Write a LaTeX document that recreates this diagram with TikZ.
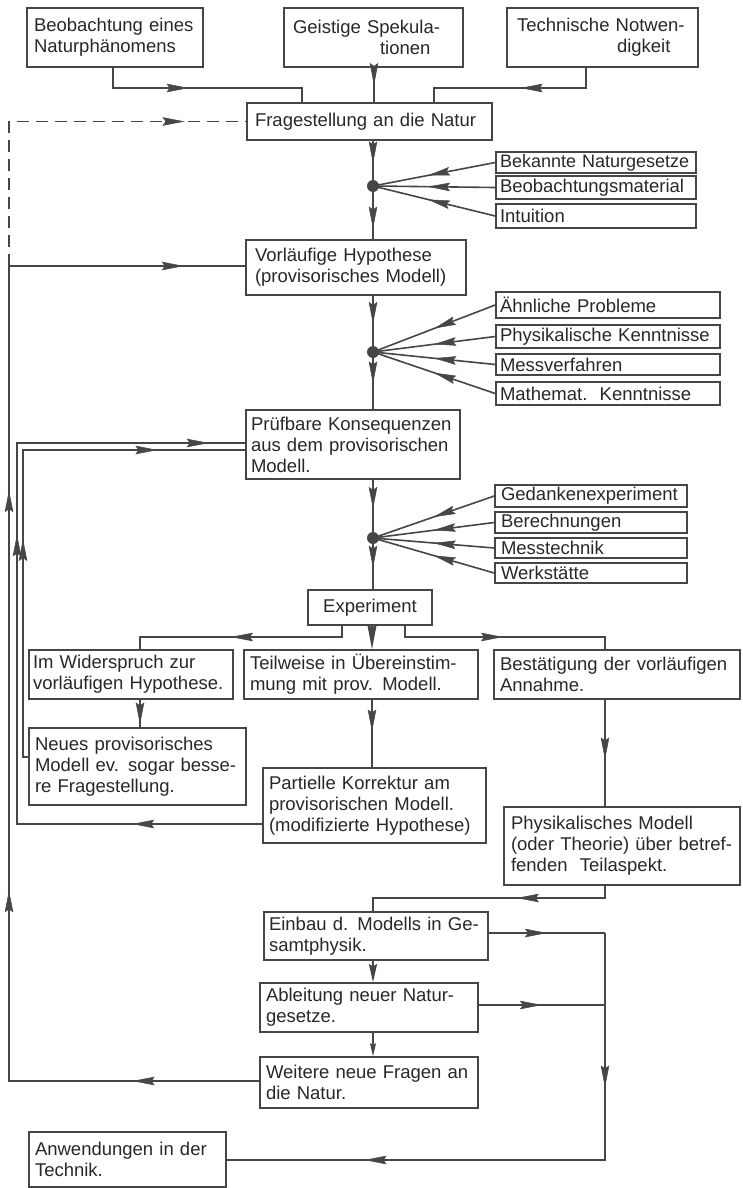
\documentclass[tikz,border=0pt]{standalone}
\usepackage{fontspec}
\setmainfont{Liberation Sans}
\usetikzlibrary{arrows.meta,decorations.markings}
\definecolor{ink}{RGB}{70,70,70}
\definecolor{txt}{RGB}{40,40,40}
\tikzset{
  box/.style={draw=ink, line width=1.6pt, align=left, inner ysep=1pt, text=txt,
              font=\fontsize{18.5pt}{21pt}\selectfont},
  dotnode/.style={circle, fill=ink, inner sep=0pt, minimum size=12pt},
  tipa/.tip={Stealth[length=22pt,width=8.5pt,inset=3pt,line width=0.5pt]},
  arr/.style={postaction={decorate}, decoration={markings,
      mark=at position #1 with {\arrow{tipa}}}},
  conn/.style={line width=1.6pt},
  dashline/.style={line width=1.6pt, dash pattern=on 12pt off 7pt}
}
\begin{document}
\begin{tikzpicture}[x=1pt,y=-1pt,color=ink]
\useasboundingbox (0,0) rectangle (742,1188);
\fill[white] (0,0) rectangle (742,1188);

% top boxes
\node[box, minimum width=176pt, minimum height=59pt, inner xsep=7pt, text width=162pt] (beo) at (115,37.5) {Beobachtung eines\\Naturphänomens};
\node[box, minimum width=179pt, minimum height=59pt, inner xsep=9pt, text width=161pt] (geist) at (373.5,37.5) {Geistige Spekula-\\\hspace*{87pt}tionen};
\node[box, minimum width=191pt, minimum height=59pt, inner xsep=10pt, text width=171pt] (tech) at (602.5,37.5) {Technische Notwen-\\\hspace*{100pt}digkeit};
\node[box, minimum width=245pt, minimum height=37pt, inner xsep=8pt, text width=229pt] (frage) at (369.5,121.5) {Fragestellung an die Natur};

% first group of inputs
\node[box, minimum width=200pt, minimum height=21pt, inner xsep=4pt, text width=192pt, font=\fontsize{18pt}{21pt}\selectfont] (bek) at (596,162.5) {Bekannte Naturgesetze};
\node[box, minimum width=200pt, minimum height=23pt, inner xsep=4pt, text width=192pt] (bmat) at (596,187.5) {Beobachtungsmaterial};
\node[box, minimum width=200pt, minimum height=24pt, inner xsep=4pt, text width=192pt] (intu) at (596,216) {Intuition};
\node[dotnode] (d1) at (373,186) {};

\node[box, minimum width=220pt, minimum height=55pt, inner xsep=9pt, text width=202pt] (vor) at (356,267.5) {Vorläufige Hypothese\\(provisorisches Modell)};

% second group
\node[box, minimum width=224pt, minimum height=26pt, inner xsep=4pt, text width=216pt] (aehn) at (608,305) {Ähnliche Probleme};
\node[box, minimum width=224pt, minimum height=23pt, inner xsep=4pt, text width=216pt] (phk) at (608,336.5) {Physikalische Kenntnisse};
\node[box, minimum width=224pt, minimum height=21pt, inner xsep=4pt, text width=216pt] (mess) at (608,364.5) {Messverfahren};
\node[box, minimum width=224pt, minimum height=23pt, inner xsep=4pt, text width=216pt] (math) at (608,393.5) {Mathemat.\ \ Kenntnisse};
\node[dotnode] (d2) at (373,352) {};

\node[box, minimum width=214pt, minimum height=69pt, inner xsep=5pt, text width=204pt] (pruef) at (353,444.5) {Prüfbare Konsequenzen\\aus dem provisorischen\\Modell.};

% third group
\node[box, minimum width=192pt, minimum height=22pt, inner xsep=6pt, text width=180pt] (ged) at (591,496) {Gedankenexperiment};
\node[box, minimum width=192pt, minimum height=21pt, inner xsep=6pt, text width=180pt] (ber) at (591,522.5) {Berechnungen};
\node[box, minimum width=192pt, minimum height=20pt, inner xsep=6pt, text width=180pt] (mtech) at (591,548) {Messtechnik};
\node[box, minimum width=192pt, minimum height=20pt, inner xsep=6pt, text width=180pt] (werk) at (591,573) {Werkstätte};
\node[dotnode] (d3) at (373,538) {};

\node[box, minimum width=124pt, minimum height=35pt, inner xsep=4pt, text width=116pt, align=center] (exp) at (370,607.5) {Experiment};

% outcomes
\node[box, minimum width=204pt, minimum height=49pt, inner xsep=4pt, text width=196pt] (wid) at (131,674.5) {Im Widerspruch zur\\vorläufigen Hypothese.};
\node[box, minimum width=234pt, minimum height=49pt, inner xsep=6pt, text width=222pt] (teil) at (361,674.5) {Teilweise in Übereinstim-\\mung mit prov. Modell.};
\node[box, minimum width=246pt, minimum height=49pt, inner xsep=6pt, text width=234pt] (best) at (617,674.5) {Bestätigung der vorläufigen\\Annahme.};

\node[box, minimum width=217pt, minimum height=77pt, inner xsep=6pt, text width=205pt] (neues) at (137.5,766.5) {Neues provisorisches\\Modell ev. sogar besse-\\re Fragestellung.};
\node[box, minimum width=223pt, minimum height=75pt, inner xsep=6pt, text width=211pt] (part) at (374.5,805.5) {Partielle Korrektur am\\provisorischen Modell.\\(modifizierte Hypothese)};
\node[box, minimum width=236pt, minimum height=78pt, inner xsep=7pt, text width=222pt] (phys) at (622,846) {Physikalisches Modell\\(oder Theorie) über betref-\\fenden\ \ Teilaspekt.};

\node[box, minimum width=224pt, minimum height=48pt, inner xsep=5pt, text width=214pt] (einb) at (376,936) {Einbau d. Modells in Ge-\\samtphysik.};
\node[box, minimum width=218pt, minimum height=49pt, inner xsep=6pt, text width=206pt] (abl) at (369,1007.5) {Ableitung neuer Natur-\\gesetze.};
\node[box, minimum width=218pt, minimum height=51pt, inner xsep=6pt, text width=206pt] (weit) at (369,1082.5) {Weitere neue Fragen an\\die Natur.};
\node[box, minimum width=197pt, minimum height=55pt, inner xsep=6pt, text width=185pt] (anw) at (127.5,1159.5) {Anwendungen in der\\Technik.};

% ---------- connectors ----------
\coordinate (j1a) at (113,88);
\coordinate (j1b) at (302,88);
\draw[conn] (beo.south -| j1a) -- (j1a) -- (j1b) -- (frage.north -| j1b);
\path[arr=0.4] (j1a) -- (j1b);

\coordinate (gx) at (374,88);
\draw[conn, arr=0.5] (geist.south -| gx) -- (frage.north -| gx);

\coordinate (j3a) at (586,88);
\coordinate (j3b) at (434,88);
\draw[conn] (tech.south -| j3a) -- (j3a) -- (j3b) -- (frage.north -| j3b);
\path[arr=0.43] (j3a) -- (j3b);

\draw[conn, arr=0.5] (frage.south -| d1) -- (d1.center);
\draw[conn, arr=0.8] (d1.center) -- (vor.north -| d1);
\draw[conn, arr=0.55] (bek.west) -- (d1.center);
\draw[conn, arr=0.55] (bmat.west) -- (d1.center);
\draw[conn, arr=0.55] (intu.west) -- (d1.center);

\draw[conn, arr=0.5] (vor.south -| d2) -- (d2.center);
\draw[conn, arr=0.55] (d2.center) -- (pruef.north -| d2);
\draw[conn, arr=0.5] (aehn.west) -- (d2.center);
\draw[conn, arr=0.5] (phk.west) -- (d2.center);
\draw[conn, arr=0.5] (mess.west) -- (d2.center);
\draw[conn, arr=0.5] (math.west) -- (d2.center);

\draw[conn, arr=0.5] (pruef.south -| d3) -- (d3.center);
\draw[conn, arr=0.58] (d3.center) -- (exp.north -| d3);
\draw[conn, arr=0.5] (ged.west) -- (d3.center);
\draw[conn, arr=0.5] (ber.west) -- (d3.center);
\draw[conn, arr=0.5] (mtech.west) -- (d3.center);
\draw[conn, arr=0.5] (werk.west) -- (d3.center);

% experiment branches
\coordinate (e1) at (342,637);
\coordinate (e2) at (140,637);
\coordinate (e0) at (372,637);
\coordinate (e3) at (405,637);
\coordinate (e4) at (605,637);
\draw[conn] (exp.south -| e1) -- (e1) -- (e2) -- (wid.north -| e2);
\path[arr=0.55] (e1) -- (e2);
\draw[conn, -{Stealth[length=24pt,width=9pt,inset=2pt]}] (exp.south -| e0) -- (teil.north -| e0);
\draw[conn] (exp.south -| e3) -- (e3) -- (e4) -- (best.north -| e4);
\path[arr=0.49] (e3) -- (e4);

\draw[conn, arr=0.9] (wid.south -| e2) -- (neues.north -| e2);
\draw[conn, arr=0.47] (teil.south -| e0) -- (part.north -| e0);
\draw[conn, arr=0.56] (best.south -| e4) -- (phys.north -| e4);

% loop from "Neues provisorisches Modell"
\coordinate (n1) at (23,757);
\coordinate (n2) at (23,450);
\draw[conn] (neues.west |- n1) -- (n1) -- (n2) -- (pruef.west |- n2);
\path[arr=0.71] (n1) -- (n2);
\path[arr=0.605] (n2) -- (pruef.west |- n2);

% loop from "Partielle Korrektur"
\coordinate (p1) at (17,824);
\coordinate (p2) at (17,443);
\draw[conn] (part.west |- p1) -- (p1) -- (p2) -- (pruef.west |- p2);
\path[arr=0.53] (part.west |- p1) -- (p1);
\path[arr=0.76] (p1) -- (p2);
\path[arr=0.84] (p2) -- (pruef.west |- p2);

% outer loop from "Weitere neue Fragen"
\coordinate (o1) at (9,1081);
\coordinate (o2) at (9,266);
\draw[conn] (weit.west |- o1) -- (o1) -- (o2) -- (vor.west |- o2);
\path[arr=0.506] (weit.west |- o1) -- (o1);
\path[arr=0.234] (o1) -- (o2);
\path[arr=0.725] (o1) -- (o2);
\path[arr=0.74] (o2) -- (vor.west |- o2);
\draw[dashline] (o2) -- (o2 |- frage.west) -- (frage.west);
\path[arr=0.74] (o2 |- frage.west) -- (frage.west);

% lower part
\coordinate (f1) at (605,898);
\coordinate (f2) at (373,898);
\draw[conn] (phys.south -| f1) -- (f1) -- (f2) -- (einb.north -| f2);
\path[arr=0.38] (f1) -- (f2);

\draw[conn, -{Stealth[length=18pt,width=8pt,inset=2pt]}] (einb.south -| f2) -- (abl.north -| f2);
\draw[conn, -{Stealth[length=13pt,width=6pt,inset=2pt]}] (abl.south -| f2) -- (weit.north -| f2);

\coordinate (g1) at (605,933);
\coordinate (g2) at (605,1005);
\coordinate (g3) at (605,1160);
\draw[conn, arr=0.5] (einb.east |- g1) -- (g1);
\draw[conn, arr=0.5] (abl.east |- g2) -- (g2);
\draw[conn] (g1) -- (g3) -- (anw.east |- g3);
\path[arr=0.68] (g1) -- (g3);
\path[arr=0.636] (g3) -- (anw.east |- g3);
\end{tikzpicture}
\end{document}
